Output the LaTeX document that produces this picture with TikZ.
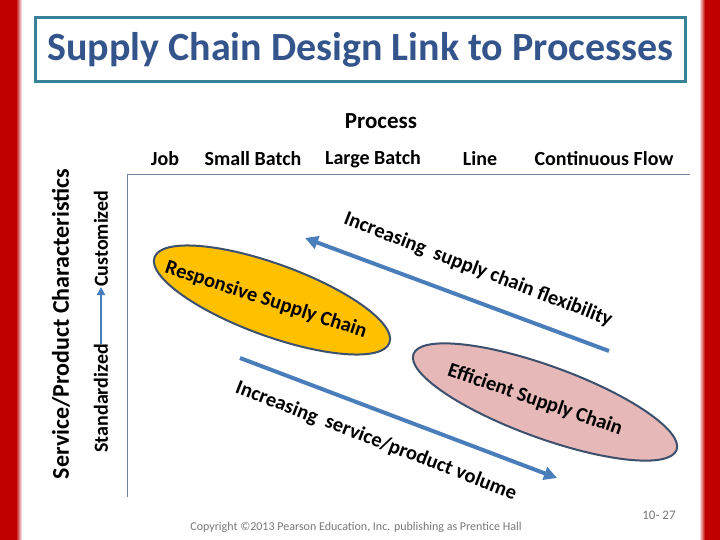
\documentclass[tikz,border=0pt]{standalone}
\usepackage{fontspec}
\setmainfont{Carlito}
\usetikzlibrary{arrows.meta,shapes.geometric}
\definecolor{barred}{RGB}{192,0,0}
\definecolor{titleblue}{RGB}{52,84,140}
\definecolor{titleframe}{RGB}{55,130,150}
\definecolor{axisc}{RGB}{110,130,155}
\definecolor{arrowc}{RGB}{74,126,187}
\definecolor{ellframe}{RGB}{60,80,110}
\definecolor{respfill}{RGB}{255,192,0}
\definecolor{efffill}{RGB}{230,185,184}
\definecolor{footgray}{RGB}{120,120,120}
\tikzset{
  lbl/.style={font=\fontsize{20}{24}\selectfont\bfseries, inner sep=0pt},
  diag/.style={font=\fontsize{20.5}{24}\selectfont\bfseries, inner sep=0pt, rotate=-21},
  bigarrow/.style={draw=arrowc, line width=4pt, -{Triangle[length=13pt,width=13pt]}},
  chainell/.style={ellipse, draw=ellframe, line width=2pt, inner sep=0pt, rotate=-20},
}
\begin{document}
\begin{tikzpicture}[x=1pt,y=-1pt]
\useasboundingbox (0,0) rectangle (720,540);
\fill[white] (0,0) rectangle (720,540);
% red side bars
\fill[barred] (0,0) rectangle (16,540);
\shade[left color=barred, right color=white] (16,0) rectangle (22,540);
\fill[barred] (705,0) rectangle (720,540);
\shade[left color=white, right color=barred] (699,0) rectangle (705,540);
% title
\node[draw=titleframe, line width=3pt, minimum width=650pt, minimum height=64pt, inner sep=0pt,
      text=titleblue, font=\fontsize{40}{46}\selectfont\bfseries] (title) at (360.5,49.5) {Supply Chain Design Link to Processes};
% axes
\coordinate (origin) at (127,497);
\coordinate (corner) at (127,175);
\coordinate (xend) at (690,175);
\draw[axisc, line width=1pt] (origin) -- (corner) -- (xend);
% process labels
\node[font=\fontsize{23}{27}\selectfont\bfseries, inner sep=0pt] (process) at (381,121) {Process};
\node[lbl] (job) at (165,159) {Job};
\node[lbl] (small) at (253,159) {Small Batch};
\node[lbl] (large) at (373,159) {Large Batch};
\node[lbl] (line) at (480,159) {Line};
\node[lbl] (cont) at (604,159) {Continuous Flow};
% vertical labels
\node[rotate=90, font=\fontsize{24}{28}\selectfont\bfseries, inner sep=0pt] (spc) at (61,324) {Service/Product Characteristics};
\node[rotate=90, anchor=east, font=\fontsize{20}{24}\selectfont\bfseries, inner sep=0pt] (std) at (101,344) {Standardized};
\node[rotate=90, anchor=west, font=\fontsize{20}{24}\selectfont\bfseries, inner sep=0pt] (cus) at (101,287) {Customized};
\draw[arrowc, line width=2pt, -{Triangle[length=8pt,width=8pt]}] (std.east) -- (cus.west);
% ellipses
\node[chainell, fill=respfill, minimum width=250pt, minimum height=72pt] (resp) at (272,300) {};
\node[diag, rotate=3] (resptext) at (266,300) {Responsive Supply Chain};
\node[chainell, fill=efffill, minimum width=280pt, minimum height=72pt] (eff) at (545,402) {};
\node[diag, rotate=2] (efftext) at (535,400) {Efficient Supply Chain};
% arrows
\coordinate (flexstart) at (609,351);
\coordinate (flexend) at (305,238);
\draw[bigarrow] (flexstart) -- (flexend);
\node[diag] (flextext) at (478,270) {Increasing\ \ supply chain flexibility};
\coordinate (volstart) at (240,358);
\coordinate (volend) at (557,478);
\draw[bigarrow] (volstart) -- (volend);
\node[diag] (voltext) at (376,441) {Increasing\ \ service/product volume};
% footer
\node[text=footgray, font=\fontsize{12}{14}\selectfont, inner sep=0pt] (copy) at (356,527) {Copyright ©2013 Pearson Education, Inc. publishing as Prentice Hall};
\node[text=footgray, font=\fontsize{13}{15}\selectfont, inner sep=0pt] (page) at (659,515) {10- 27};
\end{tikzpicture}
\end{document}
